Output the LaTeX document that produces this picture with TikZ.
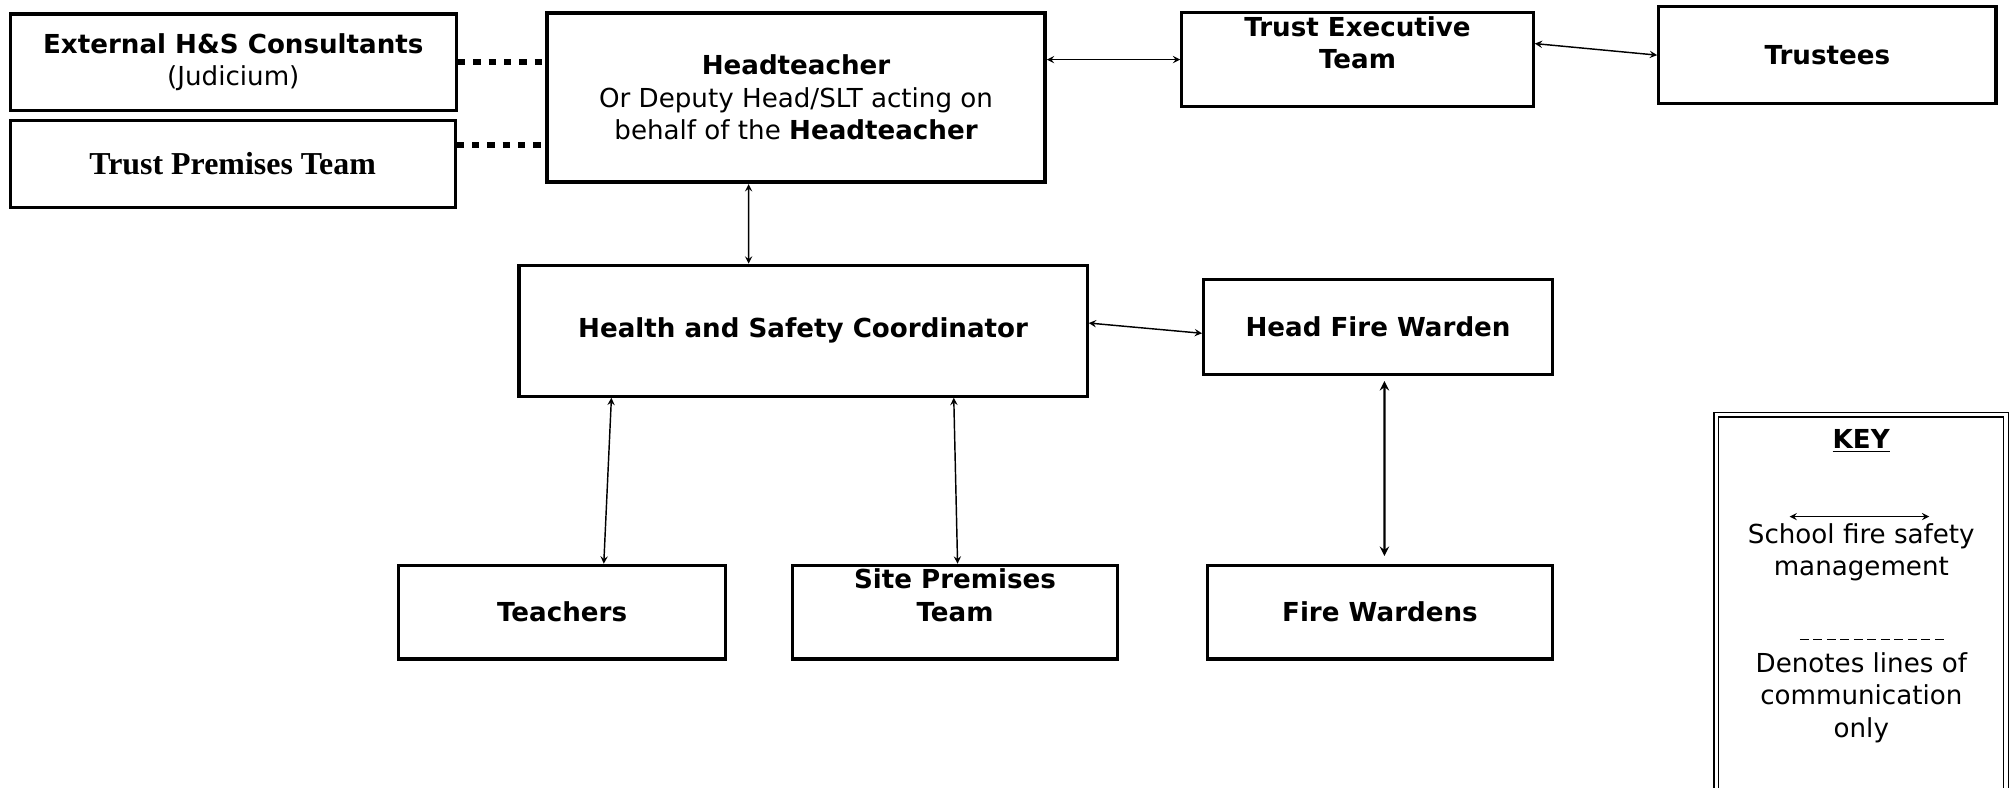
\documentclass[tikz,border=0pt]{standalone}
\usepackage{fontspec}
\setmainfont{DejaVu Sans}
\newfontfamily\timesfont{Liberation Serif}
\usepackage{tikz}
\usetikzlibrary{arrows}
\tikzstyle{role} = [rectangle, draw=black, line width=1.8pt, text centered, align=center, font=\fontsize{14.5}{18}\selectfont]
\tikzstyle{lead} = [role, line width=2.2pt]
\tikzstyle{arrow} = [line width=0.8pt, <->, >=stealth]
\tikzstyle{comms} = [line width=3.6pt, dash pattern=on 4pt off 4.5pt]
\tikzstyle{keybox} = [rectangle, draw=black, double, double distance=1.9pt, line width=0.7pt]
\tikzstyle{keytext} = [align=center, font=\fontsize{14.5}{18}\selectfont]
\tikzstyle{keydash} = [line width=0.6pt, dash pattern=on 5pt off 2.5pt]

\begin{document}
\begin{tikzpicture}[x=0.025cm, y=-0.025cm]
	\useasboundingbox (0,0) rectangle (1568,614);
	\clip (0,0) rectangle (1568,614);
	\node(external) [role, minimum width=8.7cm, minimum height=1.875cm] at (182,48.5) {\textbf{External H\&S Consultants}\\(Judicium)};
	\node(premises) [role, minimum width=8.675cm, minimum height=1.7cm] at (181.5,128) {\timesfont\bfseries\fontsize{17.7}{20}\selectfont Trust Premises Team};
	\node(head) [lead, minimum width=9.7cm, minimum height=3.3cm] at (621,76) {\textbf{Headteacher}\\Or Deputy Head/SLT acting on\\behalf of the \textbf{Headteacher}};
	\node(exec) [role, minimum width=6.85cm, minimum height=1.825cm, label={[name=exectext, keytext, yshift=0.325cm]center:\textbf{Trust Executive}\\\textbf{Team}}] at (1059,46.5) {};
	\node(trustees) [role, minimum width=6.575cm, minimum height=1.9cm] at (1425.5,43) {\textbf{Trustees}};
	\node(coord) [role, minimum width=11.075cm, minimum height=2.55cm] at (626.5,258) {\textbf{Health and Safety Coordinator}};
	\node(headwarden) [role, minimum width=6.8cm, minimum height=1.85cm] at (1075,255) {\textbf{Head Fire Warden}};
	\node(teachers) [role, minimum width=6.375cm, minimum height=1.825cm] at (438.5,477.5) {\textbf{Teachers}};
	\node(site) [role, minimum width=6.35cm, minimum height=1.825cm, label={[name=sitetext, keytext, yshift=0.325cm]center:\textbf{Site Premises}\\\textbf{Team}}] at (745,477.5) {};
	\node(wardens) [role, minimum width=6.725cm, minimum height=1.825cm] at (1076.5,477.5) {\textbf{Fire Wardens}};

	% key
	\node(key) [keybox, minimum width=5.65cm, minimum height=8cm, anchor=north] at (1452,323) {};
	\node(keytitle) [keytext] at (1452,344) {\underline{\textbf{KEY}}};
	\coordinate (keyleft) at (1396,403);
	\coordinate (keyright) at (1505,403);
	\node(keymanage) [keytext] at (1452,431) {School fire safety\\management};
	\coordinate (dashleft) at (1404,499);
	\coordinate (dashright) at (1517,499);
	\node(keycomms) [keytext] at (1452,544) {Denotes lines of\\communication\\only};
	\draw[arrow] (keyleft) -- (keyright);
	\draw[keydash] (dashleft) -- (dashright);

	% lines of communication
	\coordinate (premlink) at ([yshift=0.375cm]premises.east);
	\draw[comms] (external.east) -- (external.east -| head.west);
	\draw[comms] (premlink) -- (premlink -| head.west);

	% fire safety management
	\draw[arrow] (exec.west -| head.east) -- (exec.west);
	\draw[arrow] ([yshift=0.3125cm]exec.east) -- (trustees.west);
	\draw[arrow] ([xshift=-0.925cm]head.south) -- ([xshift=-1.0625cm]coord.north);
	\draw[arrow] ([yshift=0.15cm]coord.east) -- ([yshift=-0.125cm]headwarden.west);
	\draw[arrow] ([xshift=-3.7375cm]coord.south) -- ([xshift=0.8125cm]teachers.north);
	\draw[arrow] ([xshift=2.9375cm]coord.south) -- ([xshift=0.05cm]site.north);
	\draw[arrow, line width=1.3pt] ([xshift=0.125cm, yshift=-0.1cm]headwarden.south) -- ([xshift=0.0875cm, yshift=0.15cm]wardens.north);
\end{tikzpicture}
\end{document}
